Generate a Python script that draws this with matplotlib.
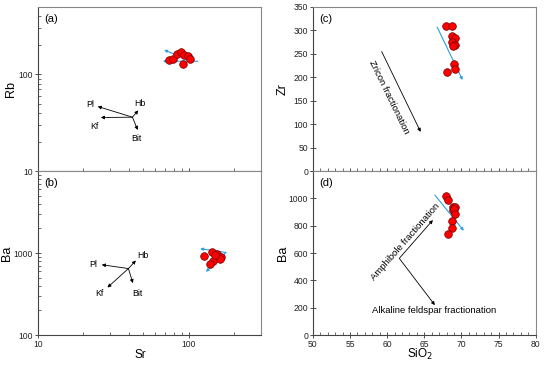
import matplotlib
matplotlib.use("Agg")
import matplotlib.pyplot as plt
from matplotlib.ticker import FixedLocator, NullFormatter, FuncFormatter, MultipleLocator, LogLocator

plt.rcParams['font.family'] = ['Liberation Sans', 'DejaVu Sans']

# (a) Rb vs Sr
sr_a = [74.5, 79, 84, 88.6, 92.7, 98.5, 101.6, 91.6]
rb_a = [140, 146, 164, 169, 158, 155, 146, 127]
# (b) Ba vs Sr
sr_b = [126, 143, 155, 164, 145, 138, 161, 150]
ba_b = [908, 1028, 980, 884, 798, 733, 845, 952]
# (c) Zr vs SiO2
si_c = [67.9, 68.75, 68.7, 69.1, 68.67, 69.15, 68.9, 69.0, 69.07, 68.07]
zr_c = [310, 309, 288, 284, 275, 269, 266, 228, 217, 212]
# (d) Ba vs SiO2
si_d = [67.94, 68.17, 68.84, 69.1, 68.9, 69.0, 69.15, 68.7, 68.75, 68.17]
ba_d = [1014, 990, 934, 934, 918, 925, 883, 834, 785, 741]

# mineral vectors: name -> (end point, label position)
vec_a_start = (42.3, 36.1)
vec_a = {'Pl': ((24.9, 46.6), (22.2, 48.5)),
         'Kf': ((26.1, 35.8), (23.7, 28.8)),
         'Hb': ((46.3, 42.4), (47.5, 50.6)),
         'Bit': ((45.9, 26.6), (44.8, 21.8))}
vec_b_start = (39.8, 647)
vec_b = {'Pl': ((26.5, 720), (23.1, 720)),
         'Kf': ((28.9, 380), (25.4, 324)),
         'Hb': ((44.6, 811), (49.5, 946)),
         'Bit': ((42.6, 430), (45.7, 324))}

# blue trend arrows (from, to)
blue_a = [((102, 140), (68.6, 179)), ((115, 137), (67.3, 137))]
blue_b = [((176.6, 1016), (119, 1130)), ((176.6, 1016), (130, 590))]
blue_c = [((66.73, 307), (70.15, 194))]
blue_d = [((66.42, 1024), (70.32, 763))]

BLUE = '#2aa0dc'
fig = plt.figure(figsize=(5.5, 3.65), dpi=100)
L1, L2, W = 0.069, 0.569, 0.405
B, M, T = 0.082, 0.5315, 0.981
ax_a = fig.add_axes([L1, M, W, T - M])
ax_b = fig.add_axes([L1, B, W, M - B])
ax_c = fig.add_axes([L2, M, W, T - M])
ax_d = fig.add_axes([L2, B, W, M - B])


def arrow(ax, start, end, color='k', lw=0.6, ms=5):
    ax.annotate('', xy=end, xytext=start,
                arrowprops=dict(arrowstyle='-|>', color=color, lw=lw,
                                mutation_scale=ms, shrinkA=0, shrinkB=0))


def style(ax, letter):
    for s in ['left', 'bottom']:
        ax.spines[s].set_color('#444444')
        ax.spines[s].set_linewidth(0.8)
    for s in ['right', 'top']:
        ax.spines[s].set_color('#888888')
        ax.spines[s].set_linewidth(0.8)
    ax.tick_params(which='major', direction='inout', length=4, width=0.6,
                   labelsize=6.2, colors='#333333', labelcolor='#222222', pad=1.5)
    ax.tick_params(which='minor', direction='in', length=2, width=0.5, colors='#333333')
    ax.text(0.03, 0.925, letter, transform=ax.transAxes, fontsize=8, va='center', ha='left')


def points(ax, x, y):
    ax.plot(x, y, 'o', ms=5.5, mfc='#ff0000', mec='#6a0000', mew=0.5, zorder=5)


logfmt = FuncFormatter(lambda v, p: '%g' % v)

for ax in (ax_a, ax_b):
    ax.set_xscale('log')
    ax.set_yscale('log')
    ax.set_xlim(10, 300)
    ax.xaxis.set_major_locator(FixedLocator([10, 100]))
    ax.xaxis.set_minor_locator(LogLocator(subs=range(2, 10)))
    ax.yaxis.set_minor_locator(LogLocator(subs=range(2, 10)))
    ax.xaxis.set_minor_formatter(NullFormatter())
    ax.yaxis.set_minor_formatter(NullFormatter())
    ax.yaxis.set_major_formatter(logfmt)
    ax.xaxis.set_major_formatter(logfmt)

ax_a.set_ylim(10, 500)
ax_a.yaxis.set_major_locator(FixedLocator([10, 100]))
ax_a.xaxis.set_major_formatter(NullFormatter())
ax_b.set_ylim(100, 10000)
ax_b.yaxis.set_major_locator(FixedLocator([100, 1000]))

for ax in (ax_c, ax_d):
    ax.set_xlim(50, 80)
    ax.xaxis.set_major_locator(MultipleLocator(5))
    ax.xaxis.set_minor_locator(MultipleLocator(1))
ax_c.xaxis.set_major_formatter(NullFormatter())
ax_c.set_ylim(0, 350)
ax_c.yaxis.set_major_locator(MultipleLocator(50))
ax_d.set_ylim(0, 1200)
ax_d.yaxis.set_major_locator(FixedLocator([0, 200, 400, 600, 800, 1000, 1200]))
ax_d.yaxis.set_major_formatter(FuncFormatter(lambda v, p: '' if v > 1000 else '%d' % v))

for ax, letter in zip((ax_a, ax_b, ax_c, ax_d), ('(a)', '(b)', '(c)', '(d)')):
    style(ax, letter)

# panel a
for name, (end, lab) in vec_a.items():
    arrow(ax_a, vec_a_start, end)
    ax_a.text(lab[0], lab[1], name, fontsize=6.3, ha='center', va='center')
for s, e in blue_a:
    arrow(ax_a, s, e, color=BLUE, lw=0.8, ms=4)
points(ax_a, sr_a, rb_a)

# panel b
for name, (end, lab) in vec_b.items():
    arrow(ax_b, vec_b_start, end)
    ax_b.text(lab[0], lab[1], name, fontsize=6.3, ha='center', va='center')
for s, e in blue_b:
    arrow(ax_b, s, e, color=BLUE, lw=0.8, ms=4)
points(ax_b, sr_b, ba_b)

# panel c
arrow(ax_c, (59.25, 255), (64.5, 83.5))
ax_c.text(60.25, 157, 'Zricon fractionation', fontsize=6.8, rotation=-64,
          ha='center', va='center', rotation_mode='anchor')
for s, e in blue_c:
    arrow(ax_c, s, e, color=BLUE, lw=0.8, ms=4)
points(ax_c, si_c, zr_c)

# panel d
arrow(ax_d, (61.63, 561), (66.15, 841))
arrow(ax_d, (61.63, 561), (66.42, 219))
ax_d.text(62.4, 683, 'Amphibole fractionation', fontsize=6.8, rotation=48.7,
          ha='center', va='center', rotation_mode='anchor')
ax_d.text(66.33, 178, 'Alkaline feldspar fractionation', fontsize=6.8,
          ha='center', va='center')
for s, e in blue_d:
    arrow(ax_d, s, e, color=BLUE, lw=0.8, ms=4)
points(ax_d, si_d, ba_d)

ax_a.set_ylabel('Rb', fontsize=9)
ax_a.yaxis.set_label_coords(-0.094, 0.5)
ax_b.set_ylabel('Ba', fontsize=9)
ax_b.yaxis.set_label_coords(-0.110, 0.5)
ax_b.set_xlabel('Sr', fontsize=8.5)
ax_b.xaxis.set_label_coords(0.46, -0.085)
ax_c.set_ylabel('Zr', fontsize=9)
ax_c.yaxis.set_label_coords(-0.108, 0.5)
ax_d.set_ylabel('Ba', fontsize=9)
ax_d.yaxis.set_label_coords(-0.108, 0.5)
ax_d.set_xlabel('SiO$_2$', fontsize=8.5)
ax_d.xaxis.set_label_coords(0.48, -0.075)

fig.savefig('out.png', dpi=100)
